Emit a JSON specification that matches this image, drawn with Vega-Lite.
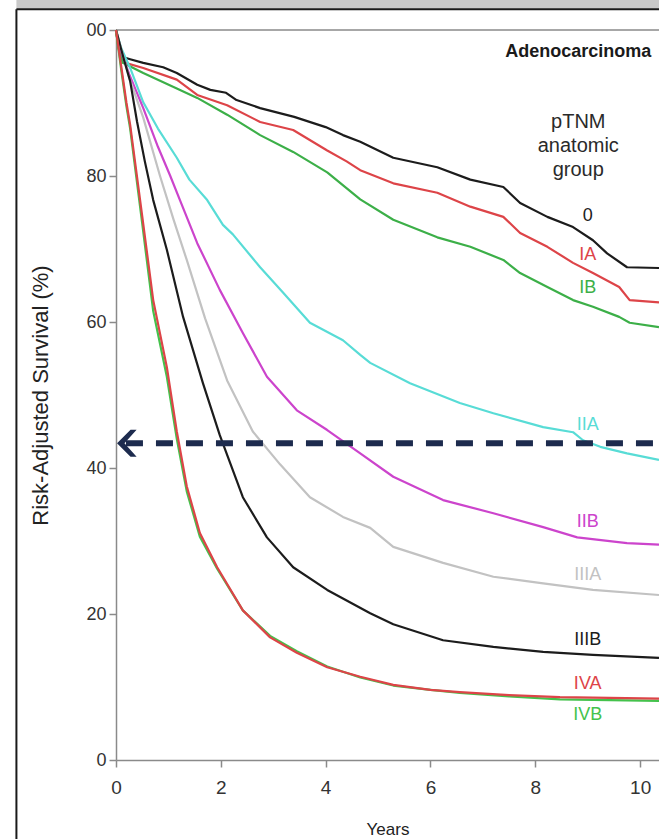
{
  "$schema": "https://vega.github.io/schema/vega-lite/v6.json",
  "width": 543,
  "height": 730,
  "autosize": {"type": "none"},
  "padding": {"left": 116, "top": 30, "right": 0, "bottom": 79},
  "background": "white",
  "data": {"values": [{}]},
  "config": {
    "view": {"stroke": null},
    "font": "Liberation Sans, Arial",
    "axis": {
      "domainColor": "#8a8a8a",
      "domainWidth": 1.5,
      "tickColor": "#8a8a8a",
      "tickWidth": 1.5,
      "tickSize": 7,
      "labelColor": "#333333",
      "labelFont": "Liberation Sans, Arial",
      "labelFontSize": 18,
      "labelFlush": false,
      "titleColor": "#222222",
      "titleFont": "Liberation Sans, Arial",
      "titleFontWeight": "normal",
      "grid": false
    }
  },
  "datasets": {
    "curves": [
      {"g": "0", "t": 0, "s": 100}, {"g": "0", "t": 0.05, "s": 98}, {"g": "0", "t": 0.13, "s": 96.3}, {"g": "0", "t": 0.27, "s": 96.0}, {"g": "0", "t": 0.52, "s": 95.5}, {"g": "0", "t": 0.9, "s": 94.9}, {"g": "0", "t": 1.16, "s": 94.1}, {"g": "0", "t": 1.55, "s": 92.5}, {"g": "0", "t": 1.8, "s": 91.8}, {"g": "0", "t": 2.1, "s": 91.4}, {"g": "0", "t": 2.3, "s": 90.4}, {"g": "0", "t": 2.75, "s": 89.3}, {"g": "0", "t": 3.4, "s": 88.1}, {"g": "0", "t": 4.0, "s": 86.7}, {"g": "0", "t": 4.33, "s": 85.6}, {"g": "0", "t": 4.66, "s": 84.7}, {"g": "0", "t": 5.29, "s": 82.5}, {"g": "0", "t": 6.13, "s": 81.2}, {"g": "0", "t": 6.76, "s": 79.5}, {"g": "0", "t": 7.39, "s": 78.5}, {"g": "0", "t": 7.71, "s": 76.3}, {"g": "0", "t": 8.23, "s": 74.4}, {"g": "0", "t": 8.72, "s": 73.0}, {"g": "0", "t": 9.1, "s": 71.2}, {"g": "0", "t": 9.37, "s": 69.4}, {"g": "0", "t": 9.75, "s": 67.5}, {"g": "0", "t": 10.36, "s": 67.4},
      {"g": "IA", "t": 0, "s": 100}, {"g": "IA", "t": 0.05, "s": 97.5}, {"g": "IA", "t": 0.13, "s": 95.6}, {"g": "IA", "t": 0.52, "s": 94.8}, {"g": "IA", "t": 1.16, "s": 93.2}, {"g": "IA", "t": 1.55, "s": 91.1}, {"g": "IA", "t": 2.12, "s": 89.7}, {"g": "IA", "t": 2.75, "s": 87.4}, {"g": "IA", "t": 3.38, "s": 86.3}, {"g": "IA", "t": 4.03, "s": 83.5}, {"g": "IA", "t": 4.4, "s": 82.0}, {"g": "IA", "t": 4.66, "s": 80.8}, {"g": "IA", "t": 5.29, "s": 79.0}, {"g": "IA", "t": 6.13, "s": 77.7}, {"g": "IA", "t": 6.76, "s": 75.8}, {"g": "IA", "t": 7.39, "s": 74.4}, {"g": "IA", "t": 7.71, "s": 72.2}, {"g": "IA", "t": 8.23, "s": 70.3}, {"g": "IA", "t": 8.72, "s": 68.1}, {"g": "IA", "t": 9.1, "s": 66.7}, {"g": "IA", "t": 9.6, "s": 64.8}, {"g": "IA", "t": 9.8, "s": 63.0}, {"g": "IA", "t": 10.36, "s": 62.7},
      {"g": "IB", "t": 0, "s": 100}, {"g": "IB", "t": 0.05, "s": 97.5}, {"g": "IB", "t": 0.13, "s": 95.5}, {"g": "IB", "t": 0.52, "s": 94.1}, {"g": "IB", "t": 1.16, "s": 92.0}, {"g": "IB", "t": 1.55, "s": 90.7}, {"g": "IB", "t": 2.12, "s": 88.4}, {"g": "IB", "t": 2.75, "s": 85.6}, {"g": "IB", "t": 3.38, "s": 83.3}, {"g": "IB", "t": 4.03, "s": 80.5}, {"g": "IB", "t": 4.66, "s": 76.8}, {"g": "IB", "t": 5.29, "s": 74.0}, {"g": "IB", "t": 6.13, "s": 71.6}, {"g": "IB", "t": 6.76, "s": 70.3}, {"g": "IB", "t": 7.39, "s": 68.5}, {"g": "IB", "t": 7.71, "s": 66.7}, {"g": "IB", "t": 8.23, "s": 64.8}, {"g": "IB", "t": 8.72, "s": 63.0}, {"g": "IB", "t": 9.1, "s": 62.1}, {"g": "IB", "t": 9.6, "s": 60.7}, {"g": "IB", "t": 9.8, "s": 59.9}, {"g": "IB", "t": 10.36, "s": 59.3},
      {"g": "IIA", "t": 0, "s": 100}, {"g": "IIA", "t": 0.1, "s": 97.5}, {"g": "IIA", "t": 0.27, "s": 94.8}, {"g": "IIA", "t": 0.52, "s": 90.1}, {"g": "IIA", "t": 0.8, "s": 86.5}, {"g": "IIA", "t": 1.16, "s": 82.5}, {"g": "IIA", "t": 1.4, "s": 79.5}, {"g": "IIA", "t": 1.74, "s": 76.7}, {"g": "IIA", "t": 2.04, "s": 73.3}, {"g": "IIA", "t": 2.23, "s": 72.0}, {"g": "IIA", "t": 2.75, "s": 67.5}, {"g": "IIA", "t": 3.19, "s": 64.0}, {"g": "IIA", "t": 3.7, "s": 59.9}, {"g": "IIA", "t": 4.33, "s": 57.5}, {"g": "IIA", "t": 4.66, "s": 55.5}, {"g": "IIA", "t": 4.85, "s": 54.4}, {"g": "IIA", "t": 5.61, "s": 51.6}, {"g": "IIA", "t": 6.56, "s": 48.9}, {"g": "IIA", "t": 7.2, "s": 47.5}, {"g": "IIA", "t": 8.15, "s": 45.6}, {"g": "IIA", "t": 8.72, "s": 44.9}, {"g": "IIA", "t": 8.91, "s": 43.8}, {"g": "IIA", "t": 9.24, "s": 42.9}, {"g": "IIA", "t": 9.75, "s": 42.0}, {"g": "IIA", "t": 10.36, "s": 41.1},
      {"g": "IIB", "t": 0, "s": 100}, {"g": "IIB", "t": 0.1, "s": 97.0}, {"g": "IIB", "t": 0.25, "s": 94.0}, {"g": "IIB", "t": 0.52, "s": 89.3}, {"g": "IIB", "t": 0.8, "s": 84.0}, {"g": "IIB", "t": 1.03, "s": 80.1}, {"g": "IIB", "t": 1.22, "s": 76.7}, {"g": "IIB", "t": 1.41, "s": 73.3}, {"g": "IIB", "t": 1.55, "s": 70.8}, {"g": "IIB", "t": 1.98, "s": 64.4}, {"g": "IIB", "t": 2.42, "s": 58.5}, {"g": "IIB", "t": 2.88, "s": 52.5}, {"g": "IIB", "t": 3.45, "s": 47.9}, {"g": "IIB", "t": 4.03, "s": 45.2}, {"g": "IIB", "t": 4.66, "s": 42.0}, {"g": "IIB", "t": 5.29, "s": 38.8}, {"g": "IIB", "t": 6.24, "s": 35.6}, {"g": "IIB", "t": 7.2, "s": 33.8}, {"g": "IIB", "t": 8.15, "s": 31.9}, {"g": "IIB", "t": 8.8, "s": 30.5}, {"g": "IIB", "t": 9.75, "s": 29.7}, {"g": "IIB", "t": 10.36, "s": 29.5},
      {"g": "IIIA", "t": 0, "s": 100}, {"g": "IIIA", "t": 0.25, "s": 93.5}, {"g": "IIIA", "t": 0.52, "s": 88.0}, {"g": "IIIA", "t": 0.84, "s": 80.0}, {"g": "IIIA", "t": 1.1, "s": 74.0}, {"g": "IIIA", "t": 1.35, "s": 68.5}, {"g": "IIIA", "t": 1.7, "s": 60.5}, {"g": "IIIA", "t": 2.12, "s": 52.0}, {"g": "IIIA", "t": 2.61, "s": 45.0}, {"g": "IIIA", "t": 3.13, "s": 40.5}, {"g": "IIIA", "t": 3.7, "s": 36.0}, {"g": "IIIA", "t": 4.33, "s": 33.3}, {"g": "IIIA", "t": 4.85, "s": 31.8}, {"g": "IIIA", "t": 5.29, "s": 29.2}, {"g": "IIIA", "t": 6.24, "s": 27.0}, {"g": "IIIA", "t": 7.2, "s": 25.1}, {"g": "IIIA", "t": 8.15, "s": 24.2}, {"g": "IIIA", "t": 9.1, "s": 23.3}, {"g": "IIIA", "t": 10.36, "s": 22.6},
      {"g": "IIIB", "t": 0, "s": 100}, {"g": "IIIB", "t": 0.15, "s": 96.0}, {"g": "IIIB", "t": 0.27, "s": 93.0}, {"g": "IIIB", "t": 0.4, "s": 87.5}, {"g": "IIIB", "t": 0.55, "s": 82.0}, {"g": "IIIB", "t": 0.71, "s": 76.7}, {"g": "IIIB", "t": 0.97, "s": 69.9}, {"g": "IIIB", "t": 1.28, "s": 60.7}, {"g": "IIIB", "t": 1.66, "s": 51.6}, {"g": "IIIB", "t": 1.98, "s": 44.5}, {"g": "IIIB", "t": 2.42, "s": 36.0}, {"g": "IIIB", "t": 2.88, "s": 30.5}, {"g": "IIIB", "t": 3.38, "s": 26.4}, {"g": "IIIB", "t": 4.03, "s": 23.3}, {"g": "IIIB", "t": 4.85, "s": 20.1}, {"g": "IIIB", "t": 5.29, "s": 18.6}, {"g": "IIIB", "t": 6.24, "s": 16.4}, {"g": "IIIB", "t": 7.2, "s": 15.5}, {"g": "IIIB", "t": 8.15, "s": 14.8}, {"g": "IIIB", "t": 9.1, "s": 14.4}, {"g": "IIIB", "t": 10.36, "s": 14.0},
      {"g": "IVB", "t": 0, "s": 100}, {"g": "IVB", "t": 0.1, "s": 94.5}, {"g": "IVB", "t": 0.2, "s": 89.5}, {"g": "IVB", "t": 0.27, "s": 86.5}, {"g": "IVB", "t": 0.5, "s": 73.5}, {"g": "IVB", "t": 0.71, "s": 61.5}, {"g": "IVB", "t": 0.97, "s": 52.5}, {"g": "IVB", "t": 1.16, "s": 44.0}, {"g": "IVB", "t": 1.35, "s": 36.8}, {"g": "IVB", "t": 1.6, "s": 30.6}, {"g": "IVB", "t": 1.93, "s": 26.2}, {"g": "IVB", "t": 2.42, "s": 20.5}, {"g": "IVB", "t": 2.94, "s": 17.0}, {"g": "IVB", "t": 3.45, "s": 14.9}, {"g": "IVB", "t": 4.03, "s": 12.8}, {"g": "IVB", "t": 4.66, "s": 11.3}, {"g": "IVB", "t": 5.29, "s": 10.2}, {"g": "IVB", "t": 6.0, "s": 9.6}, {"g": "IVB", "t": 6.56, "s": 9.2}, {"g": "IVB", "t": 7.5, "s": 8.7}, {"g": "IVB", "t": 8.47, "s": 8.3}, {"g": "IVB", "t": 10.36, "s": 8.1},
      {"g": "IVA", "t": 0, "s": 100}, {"g": "IVA", "t": 0.1, "s": 95.0}, {"g": "IVA", "t": 0.2, "s": 90.0}, {"g": "IVA", "t": 0.27, "s": 87.0}, {"g": "IVA", "t": 0.5, "s": 74.5}, {"g": "IVA", "t": 0.71, "s": 63.0}, {"g": "IVA", "t": 0.97, "s": 53.8}, {"g": "IVA", "t": 1.16, "s": 45.0}, {"g": "IVA", "t": 1.35, "s": 37.5}, {"g": "IVA", "t": 1.6, "s": 31.1}, {"g": "IVA", "t": 1.93, "s": 26.4}, {"g": "IVA", "t": 2.42, "s": 20.5}, {"g": "IVA", "t": 2.94, "s": 16.8}, {"g": "IVA", "t": 3.45, "s": 14.7}, {"g": "IVA", "t": 4.03, "s": 12.7}, {"g": "IVA", "t": 4.66, "s": 11.4}, {"g": "IVA", "t": 5.29, "s": 10.3}, {"g": "IVA", "t": 6.0, "s": 9.6}, {"g": "IVA", "t": 6.56, "s": 9.3}, {"g": "IVA", "t": 7.5, "s": 8.9}, {"g": "IVA", "t": 8.47, "s": 8.6}, {"g": "IVA", "t": 10.36, "s": 8.4}
    ],
    "stageLabels": [
      {"g": "0", "t": 9.0, "s": 74.5},
      {"g": "IA", "t": 9.0, "s": 69.2},
      {"g": "IB", "t": 9.0, "s": 64.7},
      {"g": "IIA", "t": 9.0, "s": 45.9},
      {"g": "IIB", "t": 9.0, "s": 32.6},
      {"g": "IIIA", "t": 9.0, "s": 25.3},
      {"g": "IIIB", "t": 9.0, "s": 16.4},
      {"g": "IVA", "t": 9.0, "s": 10.4},
      {"g": "IVB", "t": 9.0, "s": 6.2}
    ],
    "legendHeading": [
      {"txt": "pTNM", "t": 8.82, "s": 87.4},
      {"txt": "anatomic", "t": 8.82, "s": 84.1},
      {"txt": "group", "t": 8.82, "s": 80.8}
    ]
  },
  "layer": [
    {
      "description": "Top border of the plot at 100%",
      "mark": {"type": "rule", "color": "#8a8a8a", "strokeWidth": 1.5},
      "encoding": {
        "y": {"datum": 100, "type": "quantitative", "scale": {"domain": [0, 100], "nice": false}}
      }
    },
    {
      "description": "Outer frame of the figure panel",
      "mark": {"type": "rect", "color": "#c9c9c9", "clip": false},
      "encoding": {
        "x": {"datum": -1.9, "type": "quantitative", "scale": {"domain": [0, 10.36], "nice": false, "zero": false}},
        "x2": {"datum": 10.36},
        "y": {"datum": 104.2, "type": "quantitative", "scale": {"domain": [0, 100], "nice": false}},
        "y2": {"datum": 102.9}
      }
    },
    {
      "mark": {"type": "rule", "color": "#1a1a1a", "strokeWidth": 2, "clip": false},
      "encoding": {
        "x": {"datum": -1.9, "type": "quantitative", "scale": {"domain": [0, 10.36], "nice": false, "zero": false}},
        "x2": {"datum": 10.36},
        "y": {"datum": 102.85, "type": "quantitative", "scale": {"domain": [0, 100], "nice": false}}
      }
    },
    {
      "mark": {"type": "rule", "color": "#1a1a1a", "strokeWidth": 2, "clip": false},
      "encoding": {
        "x": {"datum": -1.9, "type": "quantitative", "scale": {"domain": [0, 10.36], "nice": false, "zero": false}},
        "y": {"datum": 102.85, "type": "quantitative", "scale": {"domain": [0, 100], "nice": false}},
        "y2": {"datum": -12}
      }
    },
    {
      "description": "Survival curves by pTNM anatomic group",
      "data": {"name": "curves"},
      "mark": {"type": "line", "strokeWidth": 2.2, "strokeJoin": "round"},
      "encoding": {
        "x": {
          "field": "t", "type": "quantitative",
          "scale": {"domain": [0, 10.36], "nice": false, "zero": false},
          "axis": {"values": [0, 2, 4, 6, 8, 10], "title": "Years", "titleFontSize": 17, "titlePadding": 24, "labelPadding": 11, "labelFontSize": 19}
        },
        "y": {
          "field": "s", "type": "quantitative",
          "scale": {"domain": [0, 100], "nice": false},
          "axis": {"values": [0, 20, 40, 60, 80, 100], "title": "Risk-Adjusted Survival (%)", "titleFontSize": 22, "titlePadding": 33, "labelPadding": 3,
                   "labelExpr": "datum.value == 100 ? '00' : datum.label"}
        },
        "color": {
          "field": "g", "type": "nominal",
          "scale": {
            "domain": ["0", "IA", "IB", "IIA", "IIB", "IIIA", "IIIB", "IVA", "IVB"],
            "range": ["#1c1c1c", "#dd4448", "#3caf48", "#58dcd6", "#cc44cc", "#c2c2c2", "#1c1c1c", "#dd4448", "#44c24c"]
          },
          "legend": null
        },
        "detail": {"field": "g"}
      }
    },
    {
      "description": "Dashed reference line with arrow",
      "mark": {"type": "rule", "color": "#1d2b4e", "strokeWidth": 6, "strokeDash": [17, 13], "clip": false},
      "encoding": {
        "x": {"datum": 0.19, "type": "quantitative", "scale": {"domain": [0, 10.36], "nice": false, "zero": false}},
        "x2": {"datum": 10.36},
        "y": {"datum": 43.4, "type": "quantitative", "scale": {"domain": [0, 100], "nice": false}}
      }
    },
    {
      "mark": {"type": "point", "filled": true, "color": "#1d2b4e", "opacity": 1, "size": 729,
               "shape": "M-0.7,0L0.3,-1L0.75,-1L-0.15,0L0.75,1L0.3,1Z", "clip": false},
      "encoding": {
        "x": {"datum": 0.2, "type": "quantitative", "scale": {"domain": [0, 10.36], "nice": false, "zero": false}},
        "y": {"datum": 43.4, "type": "quantitative", "scale": {"domain": [0, 100], "nice": false}}
      }
    },
    {
      "description": "Group labels at the right",
      "data": {"name": "stageLabels"},
      "mark": {"type": "text", "fontSize": 18, "align": "center", "baseline": "middle"},
      "encoding": {
        "x": {"field": "t", "type": "quantitative", "scale": {"domain": [0, 10.36], "nice": false, "zero": false}, "title": "Years"},
        "y": {"field": "s", "type": "quantitative", "scale": {"domain": [0, 100], "nice": false}, "title": "Risk-Adjusted Survival (%)"},
        "text": {"field": "g"},
        "color": {"field": "g", "type": "nominal", "legend": null}
      }
    },
    {
      "data": {"name": "legendHeading"},
      "mark": {"type": "text", "fontSize": 20, "align": "center", "baseline": "middle", "color": "#2a2a2a"},
      "encoding": {
        "x": {"field": "t", "type": "quantitative", "scale": {"domain": [0, 10.36], "nice": false, "zero": false}, "title": "Years"},
        "y": {"field": "s", "type": "quantitative", "scale": {"domain": [0, 100], "nice": false}, "title": "Risk-Adjusted Survival (%)"},
        "text": {"field": "txt"}
      }
    },
    {
      "data": {"values": [{"txt": "Adenocarcinoma", "t": 8.82, "s": 97.0}]},
      "mark": {"type": "text", "fontSize": 18, "fontWeight": "bold", "align": "center", "baseline": "middle", "color": "#1a1a1a"},
      "encoding": {
        "x": {"field": "t", "type": "quantitative", "scale": {"domain": [0, 10.36], "nice": false, "zero": false}, "title": "Years"},
        "y": {"field": "s", "type": "quantitative", "scale": {"domain": [0, 100], "nice": false}, "title": "Risk-Adjusted Survival (%)"},
        "text": {"field": "txt"}
      }
    }
  ]
}
